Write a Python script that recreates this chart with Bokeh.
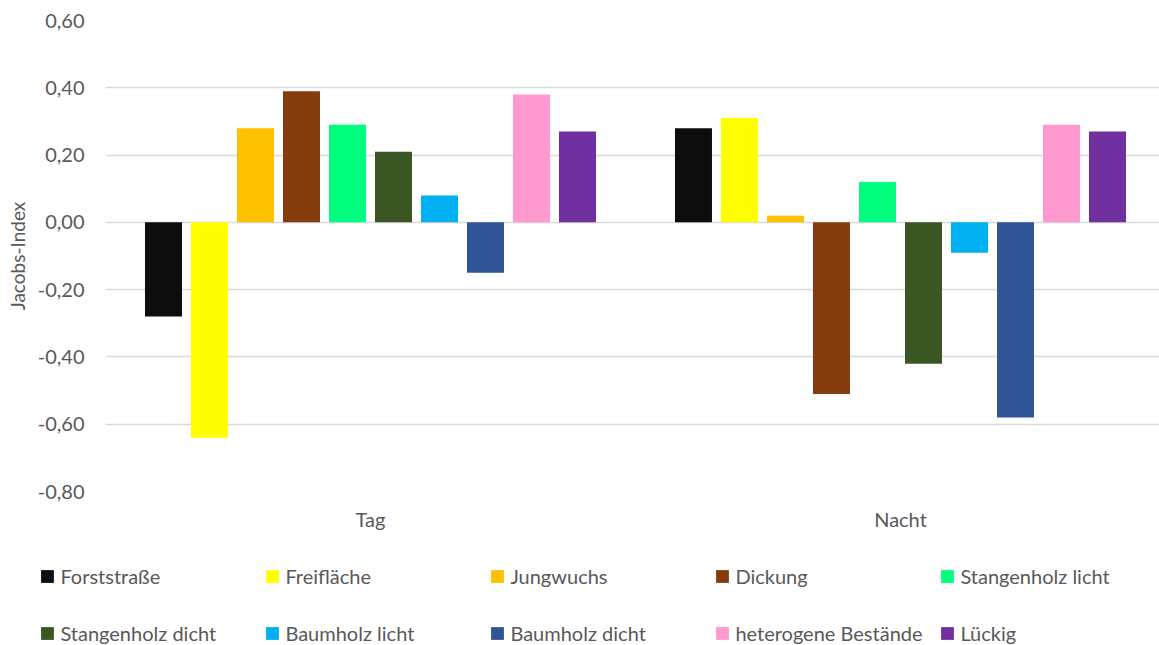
from bokeh.plotting import figure
from bokeh.models import (Range1d, FixedTicker, CustomJSTickFormatter, Legend,
                          LegendItem, ColumnDataSource)
from bokeh.transform import dodge
from bokeh.embed import file_html
from bokeh.resources import INLINE

# Jacobs selectivity index per habitat type, day vs. night
groups = ["Tag", "Nacht"]
habitats = ["Forststraße", "Freifläche", "Jungwuchs", "Dickung", "Stangenholz licht",
            "Stangenholz dicht", "Baumholz licht", "Baumholz dicht",
            "heterogene Bestände", "Lückig"]
colors = ["#0d0d0d", "#ffff00", "#ffc000", "#843c0c", "#00ff7f",
          "#3a5623", "#00b0f0", "#2f5597", "#ff99d0", "#7030a0"]
tag = [-0.28, -0.64, 0.28, 0.39, 0.29, 0.21, 0.08, -0.15, 0.38, 0.27]
nacht = [0.28, 0.31, 0.02, -0.51, 0.12, -0.42, -0.09, -0.58, 0.29, 0.27]
y_ticks = [-0.8, -0.6, -0.4, -0.2, 0.0, 0.2, 0.4, 0.6]

FONT = "Lato"
TEXT = "#595959"

p = figure(width=1159, height=545, output_backend="svg", toolbar_location=None,
           x_range=Range1d(-0.5, 1.4887), y_range=Range1d(-0.8, 0.6),
           min_border_left=105, min_border_right=0, min_border_top=20,
           min_border_bottom=54)
p.outline_line_color = None

# grouped bars: one renderer per habitat, dodged around the group position
pitch = 0.0868
bar_w = 0.0698
for i, col in enumerate(colors):
    src = ColumnDataSource(dict(x=[0, 1], v=[tag[i], nacht[i]]))
    p.vbar(x=dodge("x", (i - 4.5) * pitch, range=p.x_range), top="v", bottom=0,
           width=bar_w, source=src, fill_color=col, line_color=None)

# y axis with decimal commas
p.yaxis.ticker = FixedTicker(ticks=y_ticks)
p.yaxis.formatter = CustomJSTickFormatter(code="return tick.toFixed(2).replace('.', ',');")
p.yaxis.axis_line_color = None
p.yaxis.major_tick_line_color = None
p.yaxis.minor_tick_line_color = None
p.yaxis.major_tick_out = 0
p.yaxis.major_tick_in = 0
p.yaxis.major_label_standoff = 21
p.yaxis.major_label_text_font = FONT
p.yaxis.major_label_text_font_size = "20px"
p.yaxis.major_label_text_color = TEXT
p.yaxis.axis_label = "Jacobs-Index"
p.yaxis.axis_label_text_font = FONT
p.yaxis.axis_label_text_font_size = "19px"
p.yaxis.axis_label_text_font_style = "normal"
p.yaxis.axis_label_text_color = TEXT
p.yaxis.axis_label_standoff = 6

# x axis with the two group labels
p.xaxis.ticker = FixedTicker(ticks=[0, 1])
p.xaxis.major_label_overrides = {0: groups[0], 1: groups[1]}
p.xaxis.axis_line_color = None
p.xaxis.major_tick_line_color = None
p.xaxis.minor_tick_line_color = None
p.xaxis.major_tick_out = 0
p.xaxis.major_tick_in = 0
p.xaxis.major_label_standoff = 15
p.xaxis.major_label_text_font = FONT
p.xaxis.major_label_text_font_size = "20px"
p.xaxis.major_label_text_color = TEXT

p.xgrid.visible = False
p.ygrid.ticker = FixedTicker(ticks=y_ticks)
p.ygrid.grid_line_color = "#d9d9d9"
p.ygrid.grid_line_width = 1.3

# legend strip below the chart: two rows of five entries
lp = figure(width=1159, height=100, output_backend="svg", toolbar_location=None,
            x_range=Range1d(0, 1), y_range=Range1d(0, 1),
            x_axis_location=None, y_axis_location=None,
            min_border_left=0, min_border_right=0, min_border_top=0, min_border_bottom=0)
lp.outline_line_color = None
lp.grid.visible = False
swatches = [lp.vbar(x=[-5], top=[0], width=0.1, fill_color=c, line_color=None) for c in colors]

def make_legend(idx, vy):
    lg = Legend(items=[LegendItem(label=habitats[k], renderers=[swatches[k]]) for k in idx],
                orientation="horizontal", location=(39.4, vy),
                glyph_width=16, glyph_height=16, label_height=16, label_width=200,
                label_standoff=5, spacing=4, padding=0, margin=0,
                border_line_color=None, background_fill_alpha=0,
                label_text_font=FONT, label_text_font_size="20px",
                label_text_color=TEXT)
    lp.add_layout(lg, "center")
    return lg

make_legend(range(0, 5), 57)
make_legend(range(5, 10), 0)

open("out.html", "w").write(file_html([p, lp], INLINE))
